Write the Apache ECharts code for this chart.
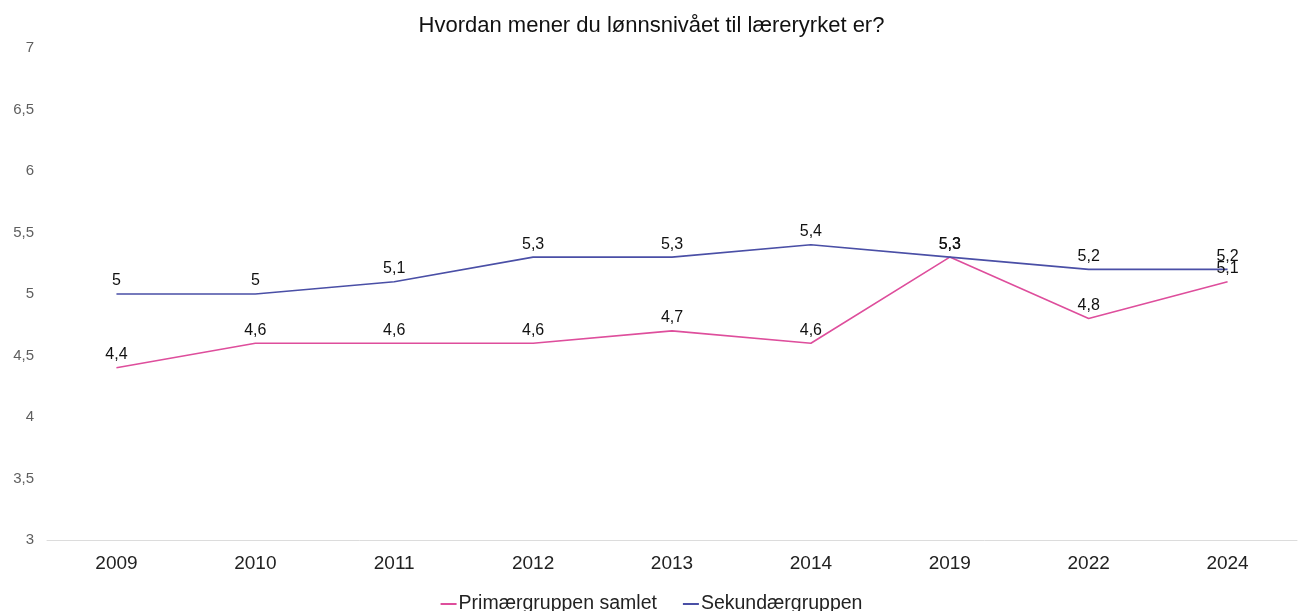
<!DOCTYPE html>
<html>
<head>
<meta charset="utf-8">
<script src="https://cdn.jsdelivr.net/npm/echarts@6/dist/echarts.min.js"></script>
<style>
  html, body { margin: 0; padding: 0; background: #fff; }
  #chart { width: 1303px; height: 611px; }
</style>
</head>
<body>
<div id="chart"></div>
<script>
// kategorier og verdier lest av figuren
var years = ['2009', '2010', '2011', '2012', '2013', '2014', '2019', '2022', '2024'];
var primaer = [4.4, 4.6, 4.6, 4.6, 4.7, 4.6, 5.3, 4.8, 5.1];
var sekundaer = [5, 5, 5.1, 5.3, 5.3, 5.4, 5.3, 5.2, 5.2];
var seriesNames = ['Primærgruppen samlet', 'Sekundærgruppen'];

var komma = function (v) {
  return String(v).replace('.', ',');
};

var chart = echarts.init(document.getElementById('chart'));

var option = {
  animation: false,
  textStyle: { fontFamily: 'Liberation Sans, Arial, sans-serif' },
  title: {
    text: 'Hvordan mener du lønnsnivået til læreryrket er?',
    left: 'center',
    top: 10,
    textStyle: { fontSize: 22, fontWeight: 'normal', color: '#111' }
  },
  legend: {
    bottom: -8,
    left: 'center',
    icon: 'rect',
    itemWidth: 16,
    itemHeight: 2,
    itemGap: 26,
    textStyle: { fontSize: 19.5, color: '#222', padding: [0, 0, 0, -3] },
    data: seriesNames
  },
  grid: {
    left: 47,
    right: 6,
    top: 48,
    bottom: 71,
    containLabel: false
  },
  xAxis: {
    type: 'category',
    data: years,
    boundaryGap: true,
    axisLine: { lineStyle: { color: '#dcdcdc' } },
    axisTick: { show: false },
    axisLabel: { fontSize: 19, color: '#222', margin: 14 }
  },
  yAxis: {
    type: 'value',
    min: 3,
    max: 7,
    interval: 0.5,
    splitLine: { show: false },
    axisLine: { show: false },
    axisTick: { show: false },
    axisLabel: { fontSize: 15, color: '#5f5f5f', margin: 13, formatter: komma }
  },
  series: [
    {
      name: seriesNames[0],
      type: 'line',
      data: primaer,
      showSymbol: true,
      symbol: 'circle',
      symbolSize: 0,
      lineStyle: { color: '#DE4E9C', width: 1.6 },
      itemStyle: { color: '#DE4E9C' },
      label: {
        show: true,
        position: 'top',
        distance: 5,
        fontSize: 16,
        color: '#111',
        formatter: function (p) { return komma(p.value); }
      }
    },
    {
      name: seriesNames[1],
      type: 'line',
      data: sekundaer,
      showSymbol: true,
      symbol: 'circle',
      symbolSize: 0,
      lineStyle: { color: '#4A4FA6', width: 1.6 },
      itemStyle: { color: '#4A4FA6' },
      label: {
        show: true,
        position: 'top',
        distance: 5,
        fontSize: 16,
        color: '#111',
        formatter: function (p) { return komma(p.value); }
      }
    }
  ]
};

chart.setOption(option);
</script>
</body>
</html>
